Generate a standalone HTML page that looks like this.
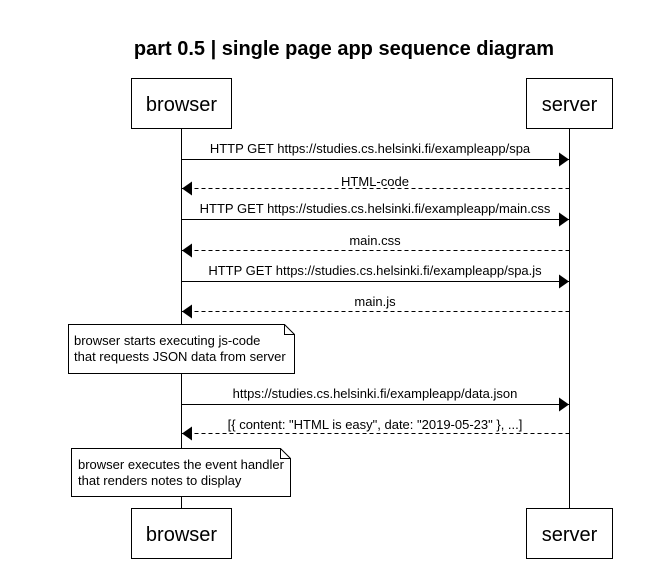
<!DOCTYPE html>
<html><head><meta charset="utf-8"><style>
html,body{margin:0;padding:0;background:#fff;}
svg{display:block;}
text{font-family:"Liberation Sans",Arial,sans-serif;fill:#000;}
</style></head><body>
<svg width="655" height="569" viewBox="0 0 655 569" xmlns="http://www.w3.org/2000/svg">
<defs>
<marker id="ah" markerWidth="10" markerHeight="14" refX="10" refY="7" orient="auto" markerUnits="userSpaceOnUse">
<path d="M0,0 L10,7 L0,14 z" fill="#000"/>
</marker>
</defs>
<text x="344" y="55" font-size="20" font-weight="bold" text-anchor="middle">part 0.5 | single page app sequence diagram</text>
<line x1="181.5" y1="128" x2="181.5" y2="509" stroke="#000"/>
<line x1="569.5" y1="128" x2="569.5" y2="509" stroke="#000"/>
<rect x="131.5" y="78.5" width="100" height="50" fill="#fff" stroke="#000"/>
<text x="181.5" y="111" font-size="20" text-anchor="middle">browser</text>
<rect x="526.5" y="78.5" width="86" height="50" fill="#fff" stroke="#000"/>
<text x="569.5" y="111" font-size="20" text-anchor="middle">server</text>
<rect x="131.5" y="508.5" width="100" height="50" fill="#fff" stroke="#000"/>
<text x="181.5" y="541" font-size="20" text-anchor="middle">browser</text>
<rect x="526.5" y="508.5" width="86" height="50" fill="#fff" stroke="#000"/>
<text x="569.5" y="541" font-size="20" text-anchor="middle">server</text>
<g font-size="13" text-anchor="middle">
<line x1="181.5" y1="159.5" x2="569" y2="159.5" stroke="#000" marker-end="url(#ah)"/>
<text x="370" y="153">HTTP GET https://studies.cs.helsinki.fi/exampleapp/spa</text>
<line x1="569.5" y1="188.5" x2="182" y2="188.5" stroke="#000" stroke-dasharray="4,3" marker-end="url(#ah)"/>
<text x="375" y="186">HTML-code</text>
<line x1="181.5" y1="219.5" x2="569" y2="219.5" stroke="#000" marker-end="url(#ah)"/>
<text x="375" y="213">HTTP GET https://studies.cs.helsinki.fi/exampleapp/main.css</text>
<line x1="569.5" y1="250.5" x2="182" y2="250.5" stroke="#000" stroke-dasharray="4,3" marker-end="url(#ah)"/>
<text x="375" y="245">main.css</text>
<line x1="181.5" y1="281.5" x2="569" y2="281.5" stroke="#000" marker-end="url(#ah)"/>
<text x="375" y="275">HTTP GET https://studies.cs.helsinki.fi/exampleapp/spa.js</text>
<line x1="569.5" y1="311.5" x2="182" y2="311.5" stroke="#000" stroke-dasharray="4,3" marker-end="url(#ah)"/>
<text x="375" y="306">main.js</text>
<line x1="181.5" y1="404.5" x2="569" y2="404.5" stroke="#000" marker-end="url(#ah)"/>
<text x="375" y="398">https://studies.cs.helsinki.fi/exampleapp/data.json</text>
<line x1="569.5" y1="433.5" x2="182" y2="433.5" stroke="#000" stroke-dasharray="4,3" marker-end="url(#ah)"/>
<text x="375" y="429">[{ content: "HTML is easy", date: "2019-05-23" }, ...]</text>
</g>
<path d="M68.5,324.5 H284.5 L294.5,334.5 V373.5 H68.5 Z" fill="#fff" stroke="#000"/>
<path d="M284.5,324.5 V334.5 H294.5" fill="none" stroke="#000"/>
<text x="74" y="345" font-size="13">browser starts executing js-code</text>
<text x="74" y="361" font-size="13">that requests JSON data from server</text>
<path d="M71.5,448.5 H280.5 L290.5,458.5 V496.5 H71.5 Z" fill="#fff" stroke="#000"/>
<path d="M280.5,448.5 V458.5 H290.5" fill="none" stroke="#000"/>
<text x="78" y="469" font-size="13">browser executes the event handler</text>
<text x="78" y="485" font-size="13">that renders notes to display</text>
</svg>
</body></html>
